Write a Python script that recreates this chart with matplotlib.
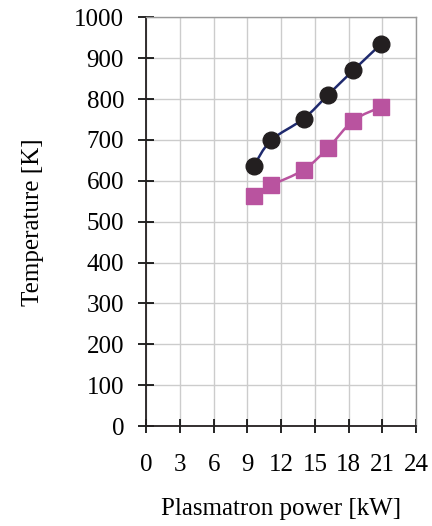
import numpy as np
import matplotlib
matplotlib.use("Agg")
import matplotlib.pyplot as plt
from matplotlib.path import Path
from matplotlib.patches import PathPatch

# ---------------- Data ----------------
power_black = [9.55, 11.1, 14.0, 16.2, 18.4, 20.9]
temp_black = [636, 699, 752, 811, 870, 935]

power_pink = [9.55, 11.1, 14.0, 16.2, 18.4, 20.9]
temp_pink = [564, 589, 627, 681, 747, 781]

xticks = [0, 3, 6, 9, 12, 15, 18, 21, 24]
yticks = [0, 100, 200, 300, 400, 500, 600, 700, 800, 900, 1000]

# ---------------- Style ----------------
plt.rcParams.update({
    "font.family": "serif",
    "font.serif": ["Liberation Serif", "DejaVu Serif"],
    "font.size": 18,
})

BLACK = "#231f20"
NAVY = "#1f2a6e"
PINK = "#b9539f"
GRID = "#cccccc"


def smooth_path(x, y, tension=1/6):
    # Catmull-Rom style bezier through the data points (Excel "smoothed line")
    pts = np.column_stack([x, y]).astype(float)
    verts = [pts[0]]
    codes = [Path.MOVETO]
    n = len(pts)
    for i in range(n - 1):
        p0 = pts[i - 1] if i > 0 else pts[i]
        p1 = pts[i]
        p2 = pts[i + 1]
        p3 = pts[i + 2] if i + 2 < n else pts[i + 1]
        c1 = p1 + (p2 - p0) * tension
        c2 = p2 - (p3 - p1) * tension
        verts += [c1, c2, p2]
        codes += [Path.CURVE4] * 3
    return Path(verts, codes)


fig = plt.figure(figsize=(4.32, 5.26), dpi=100)
ax = fig.add_axes([0.3387, 0.190, 0.6243, 0.777])

ax.add_patch(PathPatch(smooth_path(power_black, temp_black), fill=False,
                       edgecolor=NAVY, lw=1.8, zorder=3))
ax.add_patch(PathPatch(smooth_path(power_pink, temp_pink), fill=False,
                       edgecolor=PINK, lw=1.8, zorder=3))
ax.plot(power_black, temp_black, ls="none", marker="o", ms=12,
        color=BLACK, zorder=4)
ax.plot(power_pink, temp_pink, ls="none", marker="s", ms=11.5,
        color=PINK, zorder=4)

ax.set_xlim(0, 24)
ax.set_ylim(0, 1000)
ax.set_xticks(xticks)
ax.set_yticks(yticks)
ax.grid(True, color=GRID, lw=1.0)
ax.set_axisbelow(True)

for side in ["top", "right"]:
    ax.spines[side].set_color("#9a9a9a")
    ax.spines[side].set_linewidth(1.0)
for side in ["left", "bottom"]:
    ax.spines[side].set_color(BLACK)
    ax.spines[side].set_linewidth(1.3)

ax.tick_params(axis="y", direction="inout", length=12, width=1.2,
               pad=10, labelsize=18)
ax.tick_params(axis="x", direction="inout", length=10, width=1.2,
               pad=15, labelsize=18)

ax.set_xlabel("Plasmatron power [kW]", fontsize=18, labelpad=16)
ax.set_ylabel("Temperature [K]", fontsize=18, labelpad=22)

fig.savefig("out.png", dpi=100)
plt.close(fig)
